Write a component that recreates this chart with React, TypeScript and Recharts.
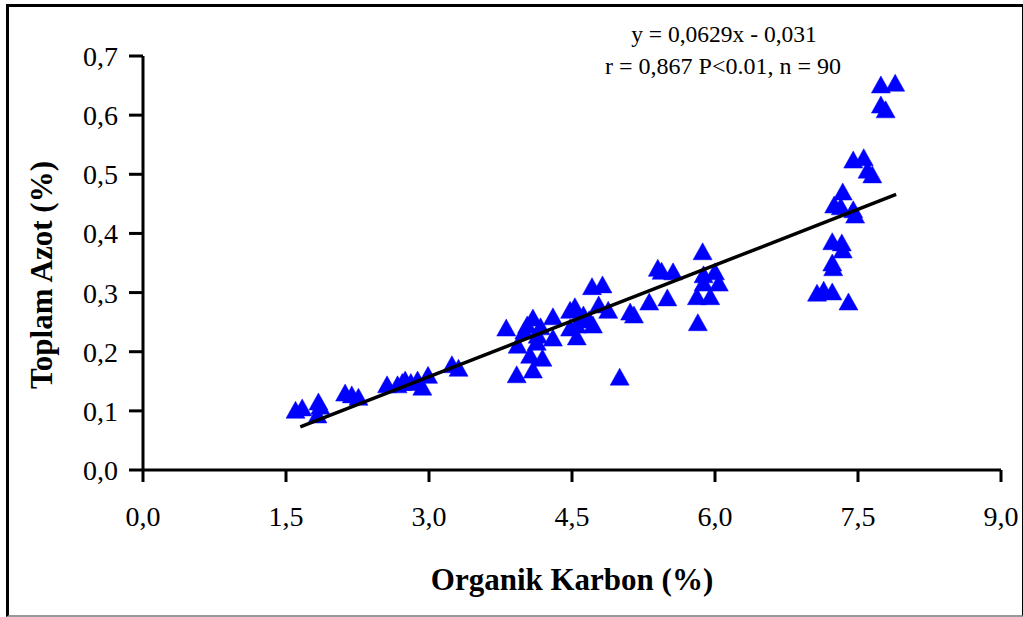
import React from 'react';
import { ScatterChart, Scatter, XAxis, YAxis } from 'recharts';

const organicCarbon = [
  1.60, 1.67, 1.84, 1.83, 2.12, 2.19, 2.26, 2.56, 2.67, 2.75, 2.81, 2.88, 2.93, 2.99, 3.24, 3.31,
  3.81, 3.93, 3.92, 4.06, 4.09, 4.03, 4.09, 4.17, 4.13, 4.19, 4.30, 4.30, 4.48, 4.53, 4.48, 4.55,
  4.59, 4.71, 4.82, 4.78, 4.72, 4.68, 4.88, 5.11, 5.15, 5.00, 5.31, 5.40, 5.44, 5.56, 5.50,
  5.87, 5.88, 6.00, 6.04, 5.88, 5.95, 5.81, 5.82,
  7.74, 7.89, 7.74, 7.79, 7.45, 7.56, 7.60, 7.65, 7.34, 7.25, 7.32, 7.45, 7.47, 7.23, 7.33, 7.34,
  7.23, 7.24, 7.07, 7.14, 7.23, 7.40,
  4.00, 4.14, 4.62, 4.55, 2.72, 1.86,
];
const totalNitrogen = [
  0.101, 0.105, 0.115, 0.093, 0.130, 0.127, 0.123, 0.144, 0.144, 0.152, 0.148, 0.152, 0.140, 0.160, 0.178, 0.172,
  0.240, 0.211, 0.161, 0.194, 0.169, 0.245, 0.257, 0.242, 0.216, 0.189, 0.259, 0.223, 0.270, 0.276, 0.240, 0.225,
  0.254, 0.310, 0.313, 0.279, 0.245, 0.254, 0.270, 0.267, 0.262, 0.157, 0.284, 0.341, 0.336, 0.335, 0.291,
  0.369, 0.330, 0.335, 0.316, 0.316, 0.293, 0.293, 0.249,
  0.651, 0.654, 0.617, 0.609, 0.524, 0.528, 0.507, 0.499, 0.470, 0.448, 0.445, 0.440, 0.431, 0.386, 0.384, 0.372,
  0.350, 0.342, 0.299, 0.304, 0.301, 0.284,
  0.235, 0.228, 0.262, 0.245, 0.148, 0.108,
];

const xTicks = [0, 1.5, 3, 4.5, 6, 7.5, 9];
const yTicks = [0, 0.1, 0.2, 0.3, 0.4, 0.5, 0.6, 0.7];

const slope = 0.0629;
const intercept = -0.031;
const trendRange = [1.65, 7.9];

const points = organicCarbon.map((x, i) => ({ x, y: totalNitrogen[i] }));
const trend = trendRange.map((x) => ({ x, y: slope * x + intercept }));

const fmt = (v: number) => v.toFixed(1).replace('.', ',');

const Tri = (props: any) => {
  const { cx, cy } = props;
  if (cx == null || cy == null) return null;
  const pts = `${cx},${cy - 9} ${cx + 9.5},${cy + 8} ${cx - 9.5},${cy + 8}`;
  return <polygon points={pts} fill="#0000FF" stroke="#0000FF" strokeWidth={0.5} />;
};

const font = '"Liberation Serif", "Times New Roman", serif';

export default function App() {
  return (
    <div style={{ position: 'absolute', left: 0, top: 0, width: 1023, height: 617, background: '#fff', fontFamily: font }}>
      <div style={{ position: 'absolute', left: 6, top: 4, width: 1013, height: 608, borderTop: '3px solid #000', borderLeft: '3px solid #000', borderRight: '2px solid #000', borderBottom: '2px solid #999' }} />
      <ScatterChart width={1023} height={617} margin={{ top: 56, right: 22, left: 0, bottom: 87 }} style={{ position: 'absolute', left: 0, top: 0 }}>
        <XAxis
          type="number"
          dataKey="x"
          domain={[0, 9]}
          ticks={xTicks}
          tickFormatter={fmt}
          stroke="#000"
          strokeWidth={3}
          tickSize={12}
          tickMargin={24}
          height={60}
          tick={{ fill: '#000', fontSize: 28, fontFamily: font }}
          allowDataOverflow
        />
        <YAxis
          type="number"
          dataKey="y"
          domain={[0, 0.7]}
          ticks={yTicks}
          tickFormatter={fmt}
          stroke="#000"
          strokeWidth={3}
          tickSize={14}
          tickMargin={11}
          width={143}
          tick={{ fill: '#000', fontSize: 28, fontFamily: font }}
          allowDataOverflow
        />
        <Scatter data={points} shape={<Tri />} isAnimationActive={false} />
        <Scatter data={trend} line={{ stroke: '#000', strokeWidth: 3.5 }} shape={() => <g />} isAnimationActive={false} />
      </ScatterChart>
      <div style={{ position: 'absolute', left: 0, top: 0, width: 84, height: 617 }}>
        <div style={{ position: 'absolute', left: 42, top: 275, transform: 'translate(-50%, -50%) rotate(-90deg)', whiteSpace: 'nowrap', fontWeight: 'bold', fontSize: 31, color: '#000' }}>
          Toplam Azot (%)
        </div>
      </div>
      <div style={{ position: 'absolute', left: 572, top: 580, transform: 'translate(-50%, -50%)', whiteSpace: 'nowrap', fontWeight: 'bold', fontSize: 31, color: '#000' }}>
        Organik Karbon (%)
      </div>
      <div style={{ position: 'absolute', left: 724, top: 34, transform: 'translate(-50%, -50%)', whiteSpace: 'nowrap', fontSize: 23.5, color: '#000' }}>
        y = 0,0629x - 0,031
      </div>
      <div style={{ position: 'absolute', left: 723, top: 66, transform: 'translate(-50%, -50%)', whiteSpace: 'nowrap', fontSize: 24, color: '#000' }}>
        r = 0,867 P&lt;0.01, n = 90
      </div>
    </div>
  );
}
